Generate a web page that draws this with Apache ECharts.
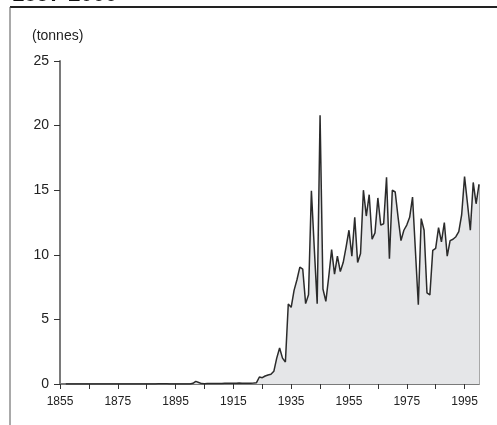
<!DOCTYPE html>
<html>
<head>
<meta charset="utf-8">
<script src="https://cdn.jsdelivr.net/npm/echarts@6/dist/echarts.min.js"></script>
<style>
html,body{margin:0;padding:0;background:#fff;}
#c{width:497px;height:425px;}
</style>
</head>
<body>
<div id="c"></div>
<script>
// ---- data ----
const titleText = '1857-2000';
const unitText = '(tonnes)';
const firstYear = 1857;
const values = [
  // 1857-1884
  0,0,0,0,0,0,0,0,0,0,0,0,0,0,0,0,0,0,0,0,0,0,0,0,0,0,0,0,
  // 1885-1900
  0,0,0,0,0.02,0.02,0.02,0.02,0,0,0,0,0,0,0,0,
  // 1901-1922
  0.05,0.2,0.12,0.03,0.02,0.03,0.03,0.04,0.04,0.03,0.04,0.05,0.05,0.06,0.06,0.06,0.07,0.06,0.06,0.06,0.06,0.07,
  // 1923-1940
  0.1,0.54,0.49,0.62,0.70,0.75,0.98,2.0,2.79,2.0,1.70,6.19,5.93,7.25,8.07,9.05,8.9,6.22,
  // 1941-1960
  6.9,14.96,10.5,6.22,20.8,7.35,6.4,8.3,10.4,8.5,9.9,8.7,9.4,10.6,11.9,9.9,12.9,9.4,10.1,15.0,
  // 1961-1980
  13.0,14.65,11.2,11.7,14.4,12.3,12.4,16.0,9.7,15.0,14.86,12.9,11.1,11.9,12.3,12.9,14.47,10.3,6.14,12.8,
  // 1981-2000
  11.9,7.05,6.9,10.34,10.5,12.1,11.0,12.5,9.9,11.1,11.2,11.4,11.8,13.1,16.05,14.0,11.9,15.6,13.95,15.45
];
const years = values.map((v, i) => firstYear + i);
const xLabelYears = [1855, 1875, 1895, 1915, 1935, 1955, 1975, 1995];
const xTickYears = [1855, 1865, 1875, 1885, 1895, 1905, 1915, 1925, 1935, 1945, 1955, 1965, 1975, 1985, 1995];
const yTicks = [0, 5, 10, 15, 20, 25];

// ---- chart ----
const seriesData = years.map((y, i) => [y, values[i]]);
const lastYear = years[years.length - 1];
const lastVal = values[values.length - 1];

const chart = echarts.init(document.getElementById('c'), null, {renderer: 'canvas'});
chart.setOption({
  animation: false,
  backgroundColor: '#ffffff',
  grid: {left: 60, right: 18, top: 61, bottom: 41, containLabel: false},
  xAxis: {
    type: 'value',
    min: 1855,
    max: 2000,
    interval: 10,
    splitLine: {show: false},
    axisLine: {show: true, lineStyle: {color: '#7a7a7a', width: 2}},
    axisTick: {show: true, length: 5, customValues: xTickYears, lineStyle: {color: '#333', width: 1}},
    axisLabel: {
      customValues: xLabelYears,
      margin: 12,
      color: '#222',
      fontFamily: 'Liberation Sans, Arial, sans-serif',
      fontSize: 12,
      formatter: v => String(v)
    }
  },
  yAxis: {
    type: 'value',
    min: yTicks[0],
    max: yTicks[yTicks.length - 1],
    interval: 5,
    splitLine: {show: false},
    axisLine: {show: true, lineStyle: {color: '#7a7a7a', width: 2}},
    axisTick: {show: true, length: 6, lineStyle: {color: '#333', width: 1}},
    axisLabel: {
      margin: 11,
      color: '#222',
      fontFamily: 'Liberation Sans, Arial, sans-serif',
      fontSize: 14
    }
  },
  series: [
    {
      type: 'line',
      data: [[lastYear, 0], [lastYear, lastVal]],
      symbol: 'none',
      lineStyle: {color: '#a8a8a8', width: 2},
      z: 1,
      silent: true
    },
    {
      type: 'line',
      data: seriesData,
      symbol: 'none',
      lineStyle: {color: '#2b2b2b', width: 1.5},
      areaStyle: {color: '#e5e6e8', opacity: 1},
      z: 2
    }
  ],
  graphic: [
    {type: 'line', shape: {x1: 10, y1: 7, x2: 497, y2: 7}, style: {stroke: '#222', lineWidth: 2}},
    {type: 'line', shape: {x1: 10, y1: 7, x2: 10, y2: 425}, style: {stroke: '#555', lineWidth: 1}},
    {type: 'text', left: 12, top: -16, style: {text: titleText, font: 'bold 22px "Liberation Sans", Arial, sans-serif', fill: '#111'}},
    {type: 'text', left: 32, top: 29, style: {text: unitText, font: '14px "Liberation Sans", Arial, sans-serif', fill: '#222'}}
  ]
});
</script>
</body>
</html>
